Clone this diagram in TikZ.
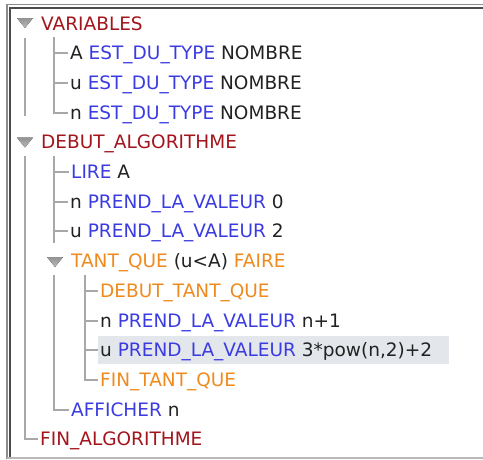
\documentclass[tikz,border=0pt]{standalone}
\usepackage{fontspec}
\setmainfont{DejaVu Sans}
\usepackage{tikz}
\usetikzlibrary{positioning}

\definecolor{blocred}{HTML}{A3151C}
\definecolor{kwblue}{HTML}{3B3BE2}
\definecolor{loopor}{HTML}{EE8A1E}
\definecolor{treegray}{HTML}{A8A8A8}
\definecolor{selgray}{HTML}{E3E7EB}
\definecolor{ink}{HTML}{222222}

\newcommand{\kw}[1]{\textcolor{kwblue}{#1}}
\newcommand{\bloc}[1]{\textcolor{blocred}{#1}}
\newcommand{\boucle}[1]{\textcolor{loopor}{#1}}

\tikzstyle{row} = [anchor = west, inner xsep = 2, inner ysep = 0,
  text height = 16pt, text depth = 3pt, text = ink,
  font = \fontsize{18.5}{18.5}\selectfont]
\tikzstyle{tree} = [draw = treegray, line width = 2]
\tikzstyle{toggle} = [top color = gray!85, bottom color = gray!55]

\begin{document}
\begin{tikzpicture}[x = 1pt, y = -1pt]
      \useasboundingbox (0, 0) rectangle (483, 459);
      % frame
      \fill [selgray] (98, 336) rectangle (449, 364);
      \draw [gray!90, line width = 1.2] (7, 459) -- (7, 4.5) -- (483, 4.5);
      \draw [black!70, line width = 1.5] (10, 459) -- (10, 8) -- (483, 8);
      \draw [gray!55, line width = 1.5] (7, 458) -- (483, 458);

      % VARIABLES
      \node [row] (var) at (39, 23.5) {\bloc{VARIABLES}};
      \node [row] (var-a) at (68, 53.2) {A \kw{EST\_DU\_TYPE} NOMBRE};
      \node [row] (var-u) at (68, 82.9) {u \kw{EST\_DU\_TYPE} NOMBRE};
      \node [row] (var-n) at (68, 112.6) {n \kw{EST\_DU\_TYPE} NOMBRE};
      % DEBUT_ALGORITHME
      \node [row] (debut) at (39, 142.3) {\bloc{DEBUT\_ALGORITHME}};
      \node [row] (lire) at (69, 172) {\kw{LIRE} A};
      \node [row] (init-n) at (68, 201.7) {n \kw{PREND\_LA\_VALEUR} 0};
      \node [row] (init-u) at (68, 231.4) {u \kw{PREND\_LA\_VALEUR} 2};
      % TANT_QUE
      \node [row] (tantque) at (69, 261.1) {\boucle{TANT\_QUE} (u<A) \boucle{FAIRE}};
      \node [row] (debut-tq) at (98, 290.8) {\boucle{DEBUT\_TANT\_QUE}};
      \node [row] (maj-n) at (98, 320.5) {n \kw{PREND\_LA\_VALEUR} n+1};
      \node [row] (maj-u) at (98, 350.2) {u \kw{PREND\_LA\_VALEUR} 3*pow(n,2)+2};
      \node [row] (fin-tq) at (98, 379.9) {\boucle{FIN\_TANT\_QUE}};
      % fin
      \node [row] (afficher) at (69, 409.6) {\kw{AFFICHER} n};
      \node [row] (fin) at (38, 439.3) {\bloc{FIN\_ALGORITHME}};

      % handles
      \coordinate (tog-var) at (25, 23);
      \coordinate (tog-debut) at (25, 142.5);
      \coordinate (tog-tq) at (55, 262);
      \fill [toggle] (tog-var) +(-8, -5) -- +(8, -5) -- +(0, 5) -- cycle;
      \fill [toggle] (tog-debut) +(-8, -5) -- +(8, -5) -- +(0, 5) -- cycle;
      \fill [toggle] (tog-tq) +(-8, -5) -- +(8, -5) -- +(0, 5) -- cycle;

      % level 0
      \coordinate (stem-0a) at (24.5, 38);
      \coordinate (stem-0b) at (24.5, 156);
      \draw [tree] (stem-0a) -- +(0, 78);
      \draw [tree] (stem-0b) |- (fin.west);
      % level 1
      \coordinate (stem-var) at (53.5, 37);
      \draw [tree] (stem-var) |- (var-a.west);
      \draw [tree] (stem-var) |- (var-u.west);
      \draw [tree] (stem-var) |- (var-n.west);
      \coordinate (stem-debut) at (53.5, 156);
      \draw [tree] (stem-debut) |- (lire.west);
      \draw [tree] (stem-debut) |- (init-n.west);
      \draw [tree] (stem-debut) |- (init-u.west);
      \draw [tree] (init-u.west -| stem-debut) -- +(0, 12);
      \coordinate (stem-after) at (53.5, 275);
      \draw [tree] (stem-after) |- (afficher.west);
      % level 2
      \coordinate (stem-tq) at (85, 275);
      \draw [tree] (stem-tq) |- (debut-tq.west);
      \draw [tree] (stem-tq) |- (maj-n.west);
      \draw [tree] (stem-tq) |- (maj-u.west);
      \draw [tree] (stem-tq) |- (fin-tq.west);
    \end{tikzpicture}
\end{document}
